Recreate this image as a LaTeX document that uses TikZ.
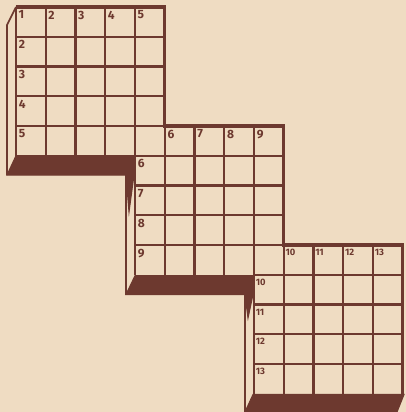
\documentclass[tikz,border=0pt]{standalone}
\usepackage{fontspec}
\usepackage{tikz}
\usetikzlibrary{positioning}
\newfontfamily\markfont{Fira Sans}
\definecolor{paper}{RGB}{239,220,194}
\definecolor{ink}{RGB}{109,57,47}

\begin{document}
\begin{tikzpicture}[x=0.75pt, y=-0.75pt,
    cellline/.style={ink, line width=1.6pt},
    rim/.style={ink, line width=2.6pt, line join=miter},
    slab/.style={fill=ink, draw=ink, line width=0.8pt, line join=miter},
    num/.style={anchor=north west, inner sep=0pt, text=ink, font=\markfont\bfseries\fontsize{9}{9}\selectfont},
    smallnum/.style={num, font=\markfont\bfseries\fontsize{7}{7}\selectfont}]
    \fill[paper] (0,0) rectangle (406,412);
    \useasboundingbox (0,0) rectangle (406,412);
    % three boards, each one shifted four cells down and right
    \foreach \k in {0,1,2} {
      \begin{scope}[shift={(119*\k,119*\k)}]
        \foreach \i in {0,...,4}
          \draw[cellline] (16+29.75*\i,7) -- (16+29.75*\i,155.75);
        \foreach \i in {1,...,4}
          \draw[cellline] (16,7+29.75*\i) -- (164.75,7+29.75*\i);
      \end{scope}
    }
    % outer rim
    \draw[rim] (16,7) -- (164.75,7) -- (164.75,126) -- (283.75,126)
        -- (283.75,245) -- (402.75,245) -- (402.75,394);
    % side faces
    \draw[cellline, line width=1.2pt] (16,7) -- (7,25) -- (7,175);
    \draw[cellline, line width=1.2pt] (126,175) -- (126,294.5);
    \draw[cellline, line width=1.2pt] (245,294.5) -- (245,412);
    % dark bottom slabs
    \filldraw[slab] (16,155.75) -- (135,155.75) -- (135,175) -- (7,175) -- cycle;
    \filldraw[slab] (126,175) -- (134,175) -- (129,212) -- cycle;
    \filldraw[slab] (135,275.75) -- (254,275.75) -- (254,294.5) -- (126,294.5) -- cycle;
    \filldraw[slab] (245,294.5) -- (253,294.5) -- (248,318) -- cycle;
    \filldraw[slab] (253,394.5) -- (404,394.5) -- (397,412) -- (245,412) -- cycle;
    % clue numbers
    \foreach \n in {1,...,5}
      \node[num] (h\n) at (16+29.75*\n-27.5,10.5) {\n};
    \foreach \n in {2,...,5}
      \node[num] (v\n) at (18.5,29.75*\n-19.25) {\n};
    \foreach \n in {6,...,9} {
      \node[num] (h\n) at (135+29.75*\n-146.25,129.5) {\n};
      \node[num] (v\n) at (137.5,126+29.75*\n-145.25) {\n};
    }
    \foreach \n in {10,...,13} {
      \node[smallnum] (h\n) at (253+29.75*\n-265.25,249) {\n};
      \node[smallnum] (v\n) at (255.5,245+29.75*\n-263.75) {\n};
    }
\end{tikzpicture}
\end{document}
